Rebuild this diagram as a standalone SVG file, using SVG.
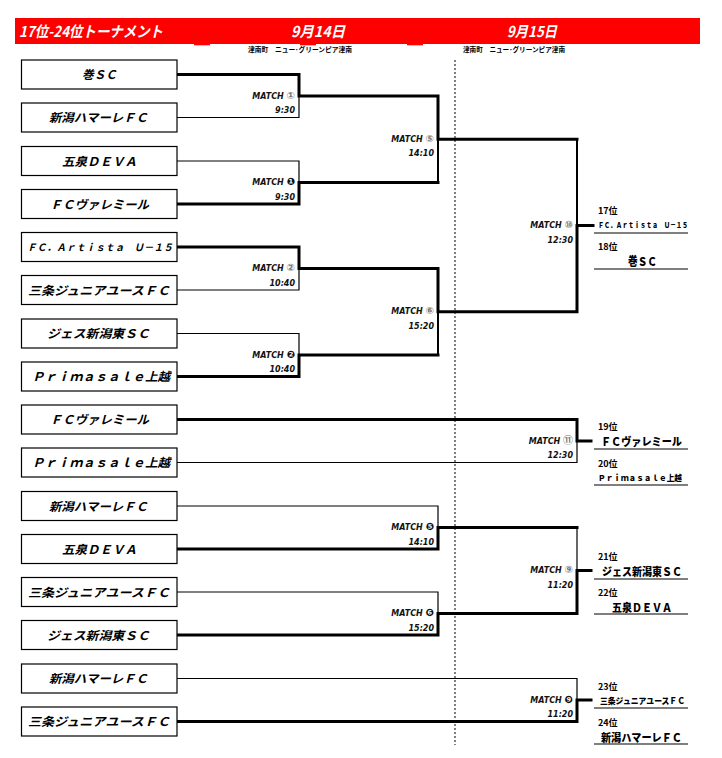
<svg xmlns="http://www.w3.org/2000/svg" width="722" height="758" viewBox="0 0 722 758">
<style>
.bg{fill:#fff}
.box{fill:#fff;stroke:#000;stroke-width:1.2}
.team{font-family:"Liberation Sans","Noto Sans CJK JP",sans-serif;font-weight:bold;font-style:italic;font-size:12px;fill:#000}
.k{fill:none;stroke:#000;stroke-width:3;stroke-linecap:square;stroke-linejoin:miter}
.m{fill:none;stroke:#000;stroke-width:2;stroke-linecap:square}
.t{fill:none;stroke:#000;stroke-width:1.2;stroke-linecap:square}
.dot{fill:none;stroke:#000;stroke-width:1;stroke-dasharray:2 2}
.ml{font-family:"DejaVu Sans","Noto Sans CJK JP",sans-serif;font-weight:bold;font-style:italic;font-size:8px;fill:#111;text-anchor:end}
.cg{fill:#777;font-size:10px;font-style:normal}
.cb{fill:#111;font-size:10px;font-style:normal}
.hd{font-family:"Noto Sans CJK JP",sans-serif;font-weight:bold;font-style:italic;font-size:15px;fill:#fff}
.sub{font-family:"Noto Sans CJK JP",sans-serif;font-weight:bold;font-size:7px;fill:#000}
.rk{font-family:"Noto Sans CJK JP",sans-serif;font-weight:bold;font-size:9px;fill:#000}
.rt{font-family:"Liberation Sans","Noto Sans CJK JP",sans-serif;font-weight:900;fill:#000}
.rl{fill:none;stroke:#000;stroke-width:1.2}
</style>
<rect class="bg" x="0" y="0" width="722" height="758"/>
<g id="header">
<rect x="15" y="18" width="685" height="26" fill="#ff0000"/>
<rect x="194" y="43.5" width="16" height="1.8" fill="#ff0000"/>
<rect x="300" y="43.5" width="16" height="1.8" fill="#ff0000"/>
<rect x="407" y="43.5" width="16" height="1.8" fill="#ff0000"/>
<text class="hd" x="19" y="37" textLength="144" lengthAdjust="spacingAndGlyphs">17位-24位トーナメント</text>
<text class="hd" x="291" y="37" textLength="54" lengthAdjust="spacingAndGlyphs">9月14日</text>
<text class="hd" x="507" y="37" textLength="50" lengthAdjust="spacingAndGlyphs">9月15日</text>
<text class="sub" x="248" y="52" textLength="104" lengthAdjust="spacingAndGlyphs">津南町　ニュー･グリーンピア津南</text>
<text class="sub" x="463" y="52" textLength="102" lengthAdjust="spacingAndGlyphs">津南町　ニュー･グリーンピア津南</text>
</g>
<line id="day-divider" class="dot" x1="455" y1="60" x2="455" y2="745"/>
<g id="connectors">
<path class="k" d="M177 74.5 H299 V96 H438 V139.25 H577"/>
<path class="t" d="M177 117.5 H299 V96"/>
<path class="t" d="M177 161 H299 V182.5"/>
<path class="k" d="M177 204 H299 V182.5 H438"/>
<path class="m" d="M438 139.25 V182.5"/>
<path class="k" d="M177 247 H299 V268.5 H438 V311.75 H577 V225.5 H593"/>
<path class="t" d="M177 290 H299 V268.5"/>
<path class="t" d="M177 333.5 H299 V355"/>
<path class="k" d="M177 376.5 H299 V355 H438"/>
<path class="m" d="M438 311.75 V355"/>
<path class="m" d="M577 139.25 V225.5"/>
<path class="k" d="M177 419.5 H577 V441 H591"/>
<path class="t" d="M177 462.5 H577 V441"/>
<path class="t" d="M177 506 H438 V527.5"/>
<path class="k" d="M177 549 H438 V527.5 H577"/>
<path class="t" d="M177 592 H438 V613.5"/>
<path class="k" d="M177 635 H438 V613.5 H577 V570.5 H591"/>
<path class="t" d="M577 527.5 V570.5"/>
<path class="t" d="M177 678.5 H577 V700"/>
<path class="k" d="M177 721.5 H577 V700 H591"/>
</g>
<g id="match-labels">
<text class="ml" x="295" y="98.5">MATCH <tspan class="cg">①</tspan></text><text class="ml" x="295" y="113">9:30</text>
<text class="ml" x="295" y="185">MATCH <tspan class="cb">❶</tspan></text><text class="ml" x="295" y="199.5">9:30</text>
<text class="ml" x="295" y="271">MATCH <tspan class="cg">②</tspan></text><text class="ml" x="295" y="285.5">10:40</text>
<text class="ml" x="295" y="357.5">MATCH <tspan class="cb">❷</tspan></text><text class="ml" x="295" y="372">10:40</text>
<text class="ml" x="434" y="141.75">MATCH <tspan class="cg">⑤</tspan></text><text class="ml" x="434" y="156">14:10</text>
<text class="ml" x="434" y="314.25">MATCH <tspan class="cg">⑥</tspan></text><text class="ml" x="434" y="328.5">15:20</text>
<text class="ml" x="573" y="228">MATCH <tspan class="cg">⑩</tspan></text><text class="ml" x="573" y="242.5">12:30</text>
<text class="ml" x="573" y="443.5">MATCH <tspan class="cg">⑪</tspan></text><text class="ml" x="573" y="458">12:30</text>
<text class="ml" x="434" y="530">MATCH <tspan class="cb">❺</tspan></text><text class="ml" x="434" y="544.5">14:10</text>
<text class="ml" x="434" y="616">MATCH <tspan class="cb">❻</tspan></text><text class="ml" x="434" y="630.5">15:20</text>
<text class="ml" x="573" y="573">MATCH <tspan class="cg">⑨</tspan></text><text class="ml" x="573" y="587.5">11:20</text>
<text class="ml" x="573" y="702.5">MATCH <tspan class="cb">❾</tspan></text><text class="ml" x="573" y="717">11:20</text>
</g>
<g id="team-1"><rect class="box" x="21.5" y="60" width="155.5" height="29"/><text class="team" x="82" y="79" textLength="35" lengthAdjust="spacingAndGlyphs">巻ＳＣ</text></g>
<g id="team-2"><rect class="box" x="21.5" y="103" width="155.5" height="29"/><text class="team" x="49" y="122" textLength="99" lengthAdjust="spacingAndGlyphs">新潟ハマーレＦＣ</text></g>
<g id="team-3"><rect class="box" x="21.5" y="146.5" width="155.5" height="29"/><text class="team" x="62" y="165.5" textLength="75" lengthAdjust="spacingAndGlyphs">五泉ＤＥＶＡ</text></g>
<g id="team-4"><rect class="box" x="21.5" y="189.5" width="155.5" height="29"/><text class="team" x="50" y="208.5" textLength="99" lengthAdjust="spacingAndGlyphs">ＦＣヴァレミール</text></g>
<g id="team-5"><rect class="box" x="21.5" y="232.5" width="155.5" height="29"/><text class="team" x="27" y="251" style="font-size:10px" textLength="146" lengthAdjust="spacingAndGlyphs">ＦＣ．Ａｒｔｉｓｔａ　Ｕ－１５</text></g>
<g id="team-6"><rect class="box" x="21.5" y="275.5" width="155.5" height="29"/><text class="team" x="28" y="294.5" textLength="142" lengthAdjust="spacingAndGlyphs">三条ジュニアユースＦＣ</text></g>
<g id="team-7"><rect class="box" x="21.5" y="319" width="155.5" height="29"/><text class="team" x="47" y="338" textLength="103" lengthAdjust="spacingAndGlyphs">ジェス新潟東ＳＣ</text></g>
<g id="team-8"><rect class="box" x="21.5" y="362" width="155.5" height="29"/><text class="team" x="32" y="381" textLength="138" lengthAdjust="spacingAndGlyphs">Ｐｒｉｍａｓａｌｅ上越</text></g>
<g id="team-9"><rect class="box" x="21.5" y="405" width="155.5" height="29"/><text class="team" x="50" y="424" textLength="99" lengthAdjust="spacingAndGlyphs">ＦＣヴァレミール</text></g>
<g id="team-10"><rect class="box" x="21.5" y="448" width="155.5" height="29"/><text class="team" x="32" y="467" textLength="138" lengthAdjust="spacingAndGlyphs">Ｐｒｉｍａｓａｌｅ上越</text></g>
<g id="team-11"><rect class="box" x="21.5" y="491.5" width="155.5" height="29"/><text class="team" x="49" y="510.5" textLength="99" lengthAdjust="spacingAndGlyphs">新潟ハマーレＦＣ</text></g>
<g id="team-12"><rect class="box" x="21.5" y="534.5" width="155.5" height="29"/><text class="team" x="62" y="553.5" textLength="75" lengthAdjust="spacingAndGlyphs">五泉ＤＥＶＡ</text></g>
<g id="team-13"><rect class="box" x="21.5" y="577.5" width="155.5" height="29"/><text class="team" x="28" y="596.5" textLength="142" lengthAdjust="spacingAndGlyphs">三条ジュニアユースＦＣ</text></g>
<g id="team-14"><rect class="box" x="21.5" y="620.5" width="155.5" height="29"/><text class="team" x="47" y="639.5" textLength="103" lengthAdjust="spacingAndGlyphs">ジェス新潟東ＳＣ</text></g>
<g id="team-15"><rect class="box" x="21.5" y="664" width="155.5" height="29"/><text class="team" x="49" y="683" textLength="99" lengthAdjust="spacingAndGlyphs">新潟ハマーレＦＣ</text></g>
<g id="team-16"><rect class="box" x="21.5" y="707" width="155.5" height="29"/><text class="team" x="28" y="726" textLength="142" lengthAdjust="spacingAndGlyphs">三条ジュニアユースＦＣ</text></g>
<g id="result-17-18">
<text class="rk" x="598" y="213.5">17位</text>
<text class="rt" x="598" y="228" style="font-size:7.5px" textLength="90" lengthAdjust="spacingAndGlyphs">ＦＣ．Ａｒｔｉｓｔａ　Ｕ－１５</text>
<line class="rl" x1="594" y1="233" x2="688" y2="233"/>
<text class="rk" x="598" y="249.5">18位</text>
<text class="rt" x="628" y="266" style="font-size:12px" textLength="29" lengthAdjust="spacingAndGlyphs">巻ＳＣ</text>
<line class="rl" x1="594" y1="269" x2="688" y2="269"/>
</g>
<g id="result-19-20">
<text class="rk" x="598" y="429.5">19位</text>
<text class="rt" x="601" y="445.5" style="font-size:11px" textLength="81" lengthAdjust="spacingAndGlyphs">ＦＣヴァレミール</text>
<line class="rl" x1="594" y1="449" x2="688" y2="449"/>
<text class="rk" x="598" y="466.5">20位</text>
<text class="rt" x="598" y="481" style="font-size:8px" textLength="84" lengthAdjust="spacingAndGlyphs">Ｐｒｉｍａｓａｌｅ上越</text>
<line class="rl" x1="594" y1="485" x2="688" y2="485"/>
</g>
<g id="result-21-22">
<text class="rk" x="598" y="559.5">21位</text>
<text class="rt" x="602" y="575.5" style="font-size:11px" textLength="80" lengthAdjust="spacingAndGlyphs">ジェス新潟東ＳＣ</text>
<line class="rl" x1="594" y1="579" x2="688" y2="579"/>
<text class="rk" x="598" y="595.5">22位</text>
<text class="rt" x="612" y="611.5" style="font-size:11px" textLength="60" lengthAdjust="spacingAndGlyphs">五泉ＤＥＶＡ</text>
<line class="rl" x1="594" y1="614" x2="688" y2="614"/>
</g>
<g id="result-23-24">
<text class="rk" x="598" y="689.5">23位</text>
<text class="rt" x="600" y="704" style="font-size:8.5px" textLength="85" lengthAdjust="spacingAndGlyphs">三条ジュニアユースＦＣ</text>
<line class="rl" x1="594" y1="708" x2="688" y2="708"/>
<text class="rk" x="598" y="725.5">24位</text>
<text class="rt" x="601" y="741.5" style="font-size:11px" textLength="81" lengthAdjust="spacingAndGlyphs">新潟ハマーレＦＣ</text>
<line class="rl" x1="594" y1="744" x2="688" y2="744"/>
</g>
</svg>
